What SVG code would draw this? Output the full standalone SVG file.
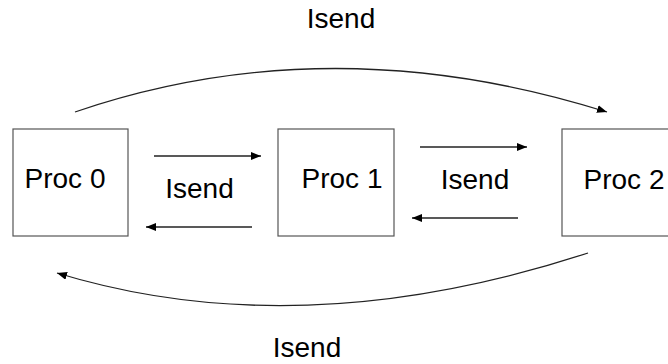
<svg xmlns="http://www.w3.org/2000/svg" width="668" height="364" viewBox="0 0 668 364">
  <style>
    .box { fill: #ffffff; stroke: #555555; stroke-width: 1.2; }
    .lbl { font-family: "Liberation Sans", Arial, sans-serif; font-size: 28px; fill: #000000; text-anchor: middle; }
    .link { fill: none; stroke: #222222; stroke-width: 1.3; marker-end: url(#head); }
  </style>
  <defs>
    <marker id="head" markerUnits="userSpaceOnUse" markerWidth="10" markerHeight="8" refX="10" refY="4" orient="auto">
      <path d="M0,0 L10,4 L0,8 z" fill="#000000"/>
    </marker>
  </defs>

  <rect width="668" height="364" fill="#ffffff"/>

  <g id="proc0">
    <rect class="box" x="13" y="129" width="115" height="107"/>
    <text class="lbl" x="65" y="188">Proc 0</text>
  </g>
  <g id="proc1">
    <rect class="box" x="278" y="129" width="116" height="107"/>
    <text class="lbl" x="342" y="188">Proc 1</text>
  </g>
  <g id="proc2">
    <rect class="box" x="562" y="129" width="115" height="107"/>
    <text class="lbl" x="624" y="189">Proc 2</text>
  </g>

  <g id="connectors">
    <path class="link" d="M154,156 L261,156"/>
    <path class="link" d="M252,227 L146,227"/>
    <path class="link" d="M420,147 L527,147"/>
    <path class="link" d="M518,218 L412,218"/>
    <path class="link" d="M75,112 Q330,25 607,112"/>
    <path class="link" d="M588,253 Q300,347 57,273"/>
  </g>

  <g id="labels">
    <text class="lbl" x="341" y="28">Isend</text>
    <text class="lbl" x="199.5" y="198">Isend</text>
    <text class="lbl" x="475" y="189">Isend</text>
    <text class="lbl" x="307" y="357">Isend</text>
  </g>
</svg>
